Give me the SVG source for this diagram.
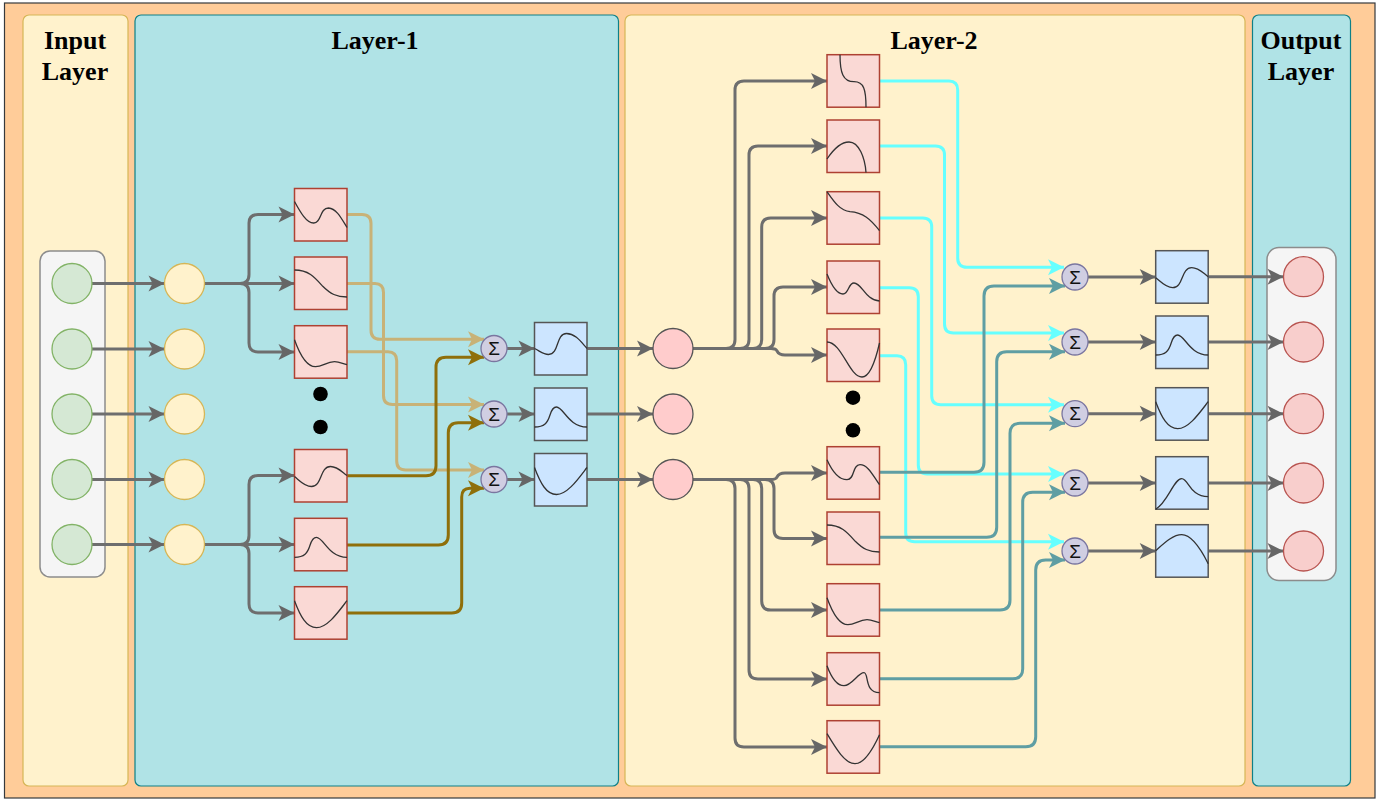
<svg xmlns="http://www.w3.org/2000/svg" xmlns:xlink="http://www.w3.org/1999/xlink" width="1390" height="800" viewBox="0 0 1390 800">
<style>
.panelY{fill:#fff2cc;stroke:#d6b656;stroke-width:1.2}
.panelT{fill:#b0e3e6;stroke:#0e8088;stroke-width:1.2}
.hold{fill:#f5f5f5;stroke:#8c8c8c;stroke-width:1.5}
.title{font-family:"Liberation Serif",serif;font-weight:bold;font-size:26px;fill:#000;text-anchor:middle}
.sig{font-family:"Liberation Sans",sans-serif;font-size:19px;fill:#111;text-anchor:middle}
.n-in{fill:#d5e8d4;stroke:#82b366;stroke-width:1.3}
.n-y{fill:#fff2cc;stroke:#d6b656;stroke-width:1.3}
.n-p{fill:#ffcccc;stroke:#555;stroke-width:1.3}
.n-o{fill:#f8cecc;stroke:#b85450;stroke-width:1.3}
.n-s{fill:#d0cee2;stroke:#7a76a0;stroke-width:1.3}
.bp{fill:#fad9d5;stroke:#ae4132;stroke-width:1.5}
.bb{fill:#cce5ff;stroke:#555;stroke-width:1.5}
.cv{fill:none;stroke:#333;stroke-width:1.3}
.g,.t,.b,.c,.l{fill:none;stroke-width:3}
.g{stroke:#6e6e6e;marker-end:url(#ag)}
.t{stroke:#c8b277;marker-end:url(#at)}
.b{stroke:#8f6f0a;marker-end:url(#ab)}
.c{stroke:#66ffff;marker-end:url(#ac)}
.l{stroke:#5f9ea3;marker-end:url(#al)}
</style>
<defs>
<marker id="ag" markerUnits="userSpaceOnUse" markerWidth="17" markerHeight="18" refX="15" refY="8" orient="auto" overflow="visible"><path d="M-1 0L15 8L-1 16L3 8Z" fill="#666"/></marker>
<marker id="at" markerUnits="userSpaceOnUse" markerWidth="17" markerHeight="18" refX="15" refY="8" orient="auto" overflow="visible"><path d="M-1 0L15 8L-1 16L3 8Z" fill="#c8b277"/></marker>
<marker id="ab" markerUnits="userSpaceOnUse" markerWidth="17" markerHeight="18" refX="15" refY="8" orient="auto" overflow="visible"><path d="M-1 0L15 8L-1 16L3 8Z" fill="#8f6f0a"/></marker>
<marker id="ac" markerUnits="userSpaceOnUse" markerWidth="17" markerHeight="18" refX="15" refY="8" orient="auto" overflow="visible"><path d="M-1 0L15 8L-1 16L3 8Z" fill="#66ffff"/></marker>
<marker id="al" markerUnits="userSpaceOnUse" markerWidth="17" markerHeight="18" refX="15" refY="8" orient="auto" overflow="visible"><path d="M-1 0L15 8L-1 16L3 8Z" fill="#5f9ea3"/></marker>
<path id="c1" class="cv" d="M0 13C6 24 12 34.500 19 34.500C27 35 25 19.500 34 19.500C42 20 47 30 52.500 39"/>
<path id="c2" class="cv" d="M0 13C14 13 20 20 28 29C36 37 42 40 52.500 40"/>
<path id="c3" class="cv" d="M0 14C5 28 12 41 21 41C28 41 32 36 40 36C45 36 48 38 52.500 39"/>
<path id="c4" class="cv" d="M0 27C5 31 10 37 17 37C28 37 25 17 36 17C43 17 47 22 52.500 26"/>
<path id="c5" class="cv" d="M0 39C10 39 13 35 15.500 27C17 22 19 19 22 19C29 19 34 39 52.500 39"/>
<path id="c6" class="cv" d="M0 14C6 30 12 41 22 41C33 41 44 25 52.500 14"/>
<path id="c7" class="cv" d="M0 26C6 29 9 32 14 32C25 32 21 11 32 11C41 11 47 20 52.500 26"/>
<path id="d1" class="cv" d="M13 0C13 18 16 27 27 27C37 27 39 35 39 52.500"/>
<path id="d2" class="cv" d="M0 39C6 30 14 22 22 22C32 22 38 38 39 52.500"/>
<path id="d3" class="cv" d="M0 0C7 10 13 19 23 20C36 21 43 27 52.500 39"/>
<path id="d4" class="cv" d="M0 13C4 23 9 33 16 33C22 33 21 22 27 22C35 22 38 39 52.500 40"/>
<path id="d5" class="cv" d="M0 13C15 13 22 48 35 48C44 48 50 25 52.500 14"/>
<path id="d6" class="cv" d="M0 13C4 22 11 33 20 33C28 33 25 18 33 18C41 18 46 29 52.500 38"/>
<path id="d9" class="cv" d="M0 13C4 24 10 33 17 33C25 33 31 20 37 20C42 20 37 40 52.500 40"/>
<path id="d10" class="cv" d="M0 13C9 28 18 43 28 43C38 43 47 26 52.500 14"/>
<path id="e4" class="cv" d="M0 52.500C12 46 18 22 26 22C33 22 34 40 52.500 40"/>
<path id="e5" class="cv" d="M0 26C8 19 17 10 26 10C36 10 46 26 52.500 39"/>
</defs>

<g id="background">
<rect x="4.500" y="3" width="1370.500" height="795" fill="#ffcc99" stroke="#36393d" stroke-width="1.2"/>
</g>
<g id="panel-input"><rect class="panelY" x="23" y="15" width="105" height="771" rx="6"/><text class="title" x="75" y="49">Input</text><text class="title" x="75" y="80">Layer</text></g>
<g id="panel-layer1"><rect class="panelT" x="135" y="15" width="483.500" height="771" rx="6"/><text class="title" x="375" y="49">Layer-1</text></g>
<g id="panel-layer2"><rect class="panelY" x="625" y="15" width="620" height="771" rx="6"/><text class="title" x="934" y="49">Layer-2</text></g>
<g id="panel-output"><rect class="panelT" x="1252.500" y="15" width="98" height="771" rx="6"/><text class="title" x="1301" y="49">Output</text><text class="title" x="1301" y="80">Layer</text></g>
<g id="input-holder"><rect class="hold" x="40" y="251" width="65" height="326" rx="10"/></g>
<g id="output-holder"><rect class="hold" x="1267" y="247.500" width="69" height="333" rx="12"/></g>

<g id="connectors">
<path class="g" d="M92 283.500H164.500"/><path class="g" d="M92 349H164.500"/><path class="g" d="M92 414H164.500"/><path class="g" d="M92 479.500H164.500"/><path class="g" d="M92 544.500H164.500"/>
<path class="g" d="M204.500 283.500H240Q249 283.500 249 274.500V223Q249 214.500 258 214.500H294.500"/>
<path class="g" d="M204.500 283.500H294.500"/>
<path class="g" d="M204.500 283.500H240Q249 283.500 249 292.500V343Q249 352 258 352H294.500"/>
<path class="g" d="M204.500 544.500H240Q249 544.500 249 535.500V484.500Q249 475.500 258 475.500H294.500"/>
<path class="g" d="M204.500 544.500H294.500"/>
<path class="g" d="M204.500 544.500H240Q249 544.500 249 553.500V604Q249 613 258 613H294.500"/>
<path class="t" d="M347 214.500H362Q371 214.500 371 223.500V330Q371 339.300 380 339.300H484"/>
<path class="t" d="M347 283.500H375Q383.500 283.500 383.500 292.500V395.500Q383.500 404.500 392.500 404.500H484"/>
<path class="t" d="M347 351.700H388Q396.700 351.700 396.700 360.700V461Q396.700 470 405.700 470H484"/>
<path class="b" d="M347 475.700H426Q436 475.700 436 465.700V367.300Q436 357.300 446 357.300H484"/>
<path class="b" d="M347 545H438.300Q448.300 545 448.300 535V432.700Q448.300 422.700 458.300 422.700H484"/>
<path class="b" d="M347 613H451.700Q461.700 613 461.700 603V497Q461.700 488.300 470 488.300H484"/>
<path class="g" d="M507 348.500H534.500"/><path class="g" d="M507 414H534.500"/><path class="g" d="M507 479.500H534.500"/>
<path class="g" d="M587 348.500H653"/><path class="g" d="M587 414H653"/><path class="g" d="M587 479.500H653"/>
<path class="g" d="M693 348.500H726Q735 348.500 735 339.500V90Q735 81 744 81H827"/>
<path class="g" d="M693 348.500H740Q749 348.500 749 339.500V155Q749 146 758 146H827"/>
<path class="g" d="M693 348.500H753Q761.700 348.500 761.700 339.500V227Q761.700 218 770.700 218H827"/>
<path class="g" d="M693 348.500H765Q774 348.500 774 339.500V296Q774 287 783 287H827"/>
<path class="g" d="M693 348.500H771Q776 348.500 777 351Q779 355 785 355H827"/>
<path class="g" d="M693 479.500H771Q776 479.500 777 477Q779 473 785 473H827"/>
<path class="g" d="M693 479.500H765Q774 479.500 774 488.500V529.500Q774 538.500 783 538.500H827"/>
<path class="g" d="M693 479.500H753Q761.700 479.500 761.700 488.500V601Q761.700 610 770.700 610H827"/>
<path class="g" d="M693 479.500H740Q749 479.500 749 488.500V670Q749 679 758 679H827"/>
<path class="g" d="M693 479.500H726Q735 479.500 735 488.500V738Q735 747 744 747H827"/>
<path class="c" d="M880 81H949Q957.700 81 957.700 90V258Q957.700 267.300 967 267.300H1064"/>
<path class="c" d="M880 146H935.500Q944.500 146 944.500 155V324Q944.500 333 953.500 333H1064"/>
<path class="c" d="M880 218H922.700Q931.700 218 931.700 227V395.700Q931.700 404.700 940.700 404.700H1064"/>
<path class="c" d="M880 287.700H909.300Q918.300 287.700 918.300 296.700V465Q918.300 474 927.300 474H1064"/>
<path class="c" d="M880 355.700H897Q905.700 355.700 905.700 364.700V532.700Q905.700 541.700 914.700 541.700H1064"/>
<path class="l" d="M880 472.300H974Q984 472.300 984 462.300V296Q984 286 994 286H1065"/>
<path class="l" d="M880 537.300H986.700Q996.700 537.300 996.700 527.300V361.700Q996.700 351.700 1006.700 351.700H1065"/>
<path class="l" d="M880 610H1000Q1010 610 1010 600V433.300Q1010 423.300 1020 423.300H1065"/>
<path class="l" d="M880 678.700H1012.700Q1022.700 678.700 1022.700 668.700V502.300Q1022.700 492.300 1032.700 492.300H1065"/>
<path class="l" d="M880 746.700H1025.700Q1035.700 746.700 1035.700 736.700V570Q1035.700 560 1045.700 560H1065"/>
<path class="g" d="M1088 277H1155.700"/><path class="g" d="M1088 342H1155.700"/><path class="g" d="M1088 413.700H1155.700"/><path class="g" d="M1088 483H1155.700"/><path class="g" d="M1088 551H1155.700"/>
<path class="g" d="M1208 276.700H1283.500"/><path class="g" d="M1208 342H1283.500"/><path class="g" d="M1208 413.700H1283.500"/><path class="g" d="M1208 483H1283.500"/><path class="g" d="M1208 551H1283.500"/>
</g>

<g id="in1"><circle class="n-in" cx="72" cy="283.500" r="20"/></g>
<g id="in2"><circle class="n-in" cx="72" cy="349" r="20"/></g>
<g id="in3"><circle class="n-in" cx="72" cy="414" r="20"/></g>
<g id="in4"><circle class="n-in" cx="72" cy="479.500" r="20"/></g>
<g id="in5"><circle class="n-in" cx="72" cy="544.500" r="20"/></g>
<g id="y1"><circle class="n-y" cx="184.500" cy="283.500" r="20"/></g>
<g id="y2"><circle class="n-y" cx="184.500" cy="349" r="20"/></g>
<g id="y3"><circle class="n-y" cx="184.500" cy="414" r="20"/></g>
<g id="y4"><circle class="n-y" cx="184.500" cy="479.500" r="20"/></g>
<g id="y5"><circle class="n-y" cx="184.500" cy="544.500" r="20"/></g>

<g id="a1" transform="translate(294.500 188.500)"><rect class="bp" width="52.500" height="52.500"/><use href="#c1"/></g>
<g id="a2" transform="translate(294.500 257)"><rect class="bp" width="52.500" height="52.500"/><use href="#c2"/></g>
<g id="a3" transform="translate(294.500 325.700)"><rect class="bp" width="52.500" height="52.500"/><use href="#c3"/></g>
<g id="a4" transform="translate(294.500 449.500)"><rect class="bp" width="52.500" height="52.500"/><use href="#c4"/></g>
<g id="a5" transform="translate(294.500 518.300)"><rect class="bp" width="52.500" height="52.500"/><use href="#c5"/></g>
<g id="a6" transform="translate(294.500 586.700)"><rect class="bp" width="52.500" height="52.500"/><use href="#c6"/></g>
<g id="dots1"><circle cx="320.500" cy="394" r="7.300" fill="#000"/><circle cx="320.500" cy="427" r="7.300" fill="#000"/></g>

<g id="s1"><circle class="n-s" cx="494" cy="348.500" r="13"/><text class="sig" x="494" y="355">Σ</text></g>
<g id="s2"><circle class="n-s" cx="494" cy="414" r="13"/><text class="sig" x="494" y="420.500">Σ</text></g>
<g id="s3"><circle class="n-s" cx="494" cy="479.500" r="13"/><text class="sig" x="494" y="486">Σ</text></g>

<g id="b1" transform="translate(534.500 322.500)"><rect class="bb" width="52.500" height="52.500"/><use href="#c7"/></g>
<g id="b2" transform="translate(534.500 388)"><rect class="bb" width="52.500" height="52.500"/><use href="#c5"/></g>
<g id="b3" transform="translate(534.500 453.500)"><rect class="bb" width="52.500" height="52.500"/><use href="#c6"/></g>

<g id="p1"><circle class="n-p" cx="673" cy="348.500" r="20"/></g>
<g id="p2"><circle class="n-p" cx="673" cy="414" r="20"/></g>
<g id="p3"><circle class="n-p" cx="673" cy="479.500" r="20"/></g>

<g id="k1" transform="translate(827 54.700)"><rect class="bp" width="52.500" height="52.500"/><use href="#d1"/></g>
<g id="k2" transform="translate(827 120)"><rect class="bp" width="52.500" height="52.500"/><use href="#d2"/></g>
<g id="k3" transform="translate(827 191.700)"><rect class="bp" width="52.500" height="52.500"/><use href="#d3"/></g>
<g id="k4" transform="translate(827 261)"><rect class="bp" width="52.500" height="52.500"/><use href="#d4"/></g>
<g id="k5" transform="translate(827 329)"><rect class="bp" width="52.500" height="52.500"/><use href="#d5"/></g>
<g id="dots2"><circle cx="853" cy="397.700" r="7.300" fill="#000"/><circle cx="853" cy="430.300" r="7.300" fill="#000"/></g>
<g id="k6" transform="translate(827 446.700)"><rect class="bp" width="52.500" height="52.500"/><use href="#d6"/></g>
<g id="k7" transform="translate(827 512)"><rect class="bp" width="52.500" height="52.500"/><use href="#c2"/></g>
<g id="k8" transform="translate(827 583.700)"><rect class="bp" width="52.500" height="52.500"/><use href="#c3"/></g>
<g id="k9" transform="translate(827 652.700)"><rect class="bp" width="52.500" height="52.500"/><use href="#d9"/></g>
<g id="k10" transform="translate(827 720.700)"><rect class="bp" width="52.500" height="52.500"/><use href="#d10"/></g>

<g id="t1"><circle class="n-s" cx="1075" cy="277" r="13"/><text class="sig" x="1075" y="283.500">Σ</text></g>
<g id="t2"><circle class="n-s" cx="1075" cy="342" r="13"/><text class="sig" x="1075" y="348.500">Σ</text></g>
<g id="t3"><circle class="n-s" cx="1075" cy="413.700" r="13"/><text class="sig" x="1075" y="420.200">Σ</text></g>
<g id="t4"><circle class="n-s" cx="1075" cy="483" r="13"/><text class="sig" x="1075" y="489.500">Σ</text></g>
<g id="t5"><circle class="n-s" cx="1075" cy="551" r="13"/><text class="sig" x="1075" y="557.500">Σ</text></g>

<g id="u1" transform="translate(1155.700 250.700)"><rect class="bb" width="52.500" height="52.500"/><use href="#c4"/></g>
<g id="u2" transform="translate(1155.700 316)"><rect class="bb" width="52.500" height="52.500"/><use href="#c5"/></g>
<g id="u3" transform="translate(1155.700 387.700)"><rect class="bb" width="52.500" height="52.500"/><use href="#c6"/></g>
<g id="u4" transform="translate(1155.700 456.700)"><rect class="bb" width="52.500" height="52.500"/><use href="#e4"/></g>
<g id="u5" transform="translate(1155.700 524.700)"><rect class="bb" width="52.500" height="52.500"/><use href="#e5"/></g>

<g id="o1"><circle class="n-o" cx="1303.500" cy="276.700" r="20"/></g>
<g id="o2"><circle class="n-o" cx="1303.500" cy="342" r="20"/></g>
<g id="o3"><circle class="n-o" cx="1303.500" cy="413.700" r="20"/></g>
<g id="o4"><circle class="n-o" cx="1303.500" cy="483" r="20"/></g>
<g id="o5"><circle class="n-o" cx="1303.500" cy="551" r="20"/></g>
</svg>
